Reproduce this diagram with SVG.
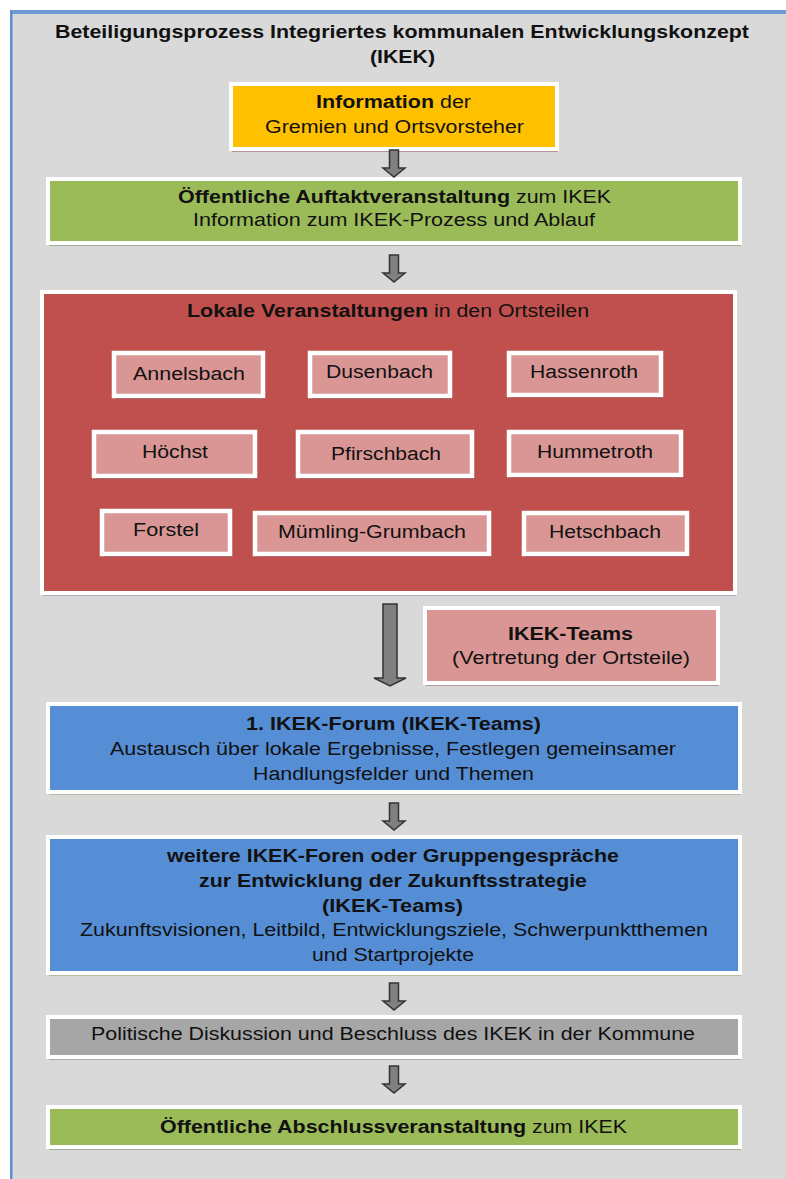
<svg xmlns="http://www.w3.org/2000/svg" width="786" height="1179" viewBox="0 0 786 1179">
<style>
text{font-family:"Liberation Sans",Arial,sans-serif;font-size:18px;fill:#111}
.b{font-weight:bold}
.box{stroke:#fff;stroke-width:4}
.sm{stroke:#fff;stroke-width:4.5}
.yel{fill:#ffc000}.grn{fill:#9bbb59}.red{fill:#c0504d}.pnk{fill:#d99694}.blu{fill:#558ed5}.gry{fill:#a6a6a6}
.arr{fill:#808080;stroke:#333;stroke-width:1.5;stroke-linejoin:miter}
</style>
<rect width="786" height="1179" fill="#fff"/>
<rect x="10" y="10" width="776" height="1169" fill="#d9d9d9"/>
<rect x="10" y="10" width="776" height="4" fill="#6e9bd6"/>
<rect x="10" y="10" width="2.5" height="1169" fill="#5b8fd0"/>

<g id="title">
<text class="b" x="55" y="38" textLength="694" lengthAdjust="spacingAndGlyphs">Beteiligungsprozess Integriertes kommunalen Entwicklungskonzept</text>
<text class="b" x="370" y="63" textLength="65" lengthAdjust="spacingAndGlyphs">(IKEK)</text>
</g>

<g id="info">
<rect x="232" y="87" width="326" height="65" fill="#b29494"/>
<rect class="box yel" x="231" y="84" width="326" height="65"/>
<text class="b" x="316" y="108" textLength="118" lengthAdjust="spacingAndGlyphs">Information</text>
<text x="440" y="108" textLength="31" lengthAdjust="spacingAndGlyphs">der</text>
<text x="265" y="133" textLength="259" lengthAdjust="spacingAndGlyphs">Gremien und Ortsvorsteher</text>
</g>

<g id="auftakt">
<rect x="49" y="182" width="692" height="64" fill="#a4ab96"/>
<rect class="box grn" x="48" y="179" width="692" height="64"/>
<text class="b" x="178" y="203" textLength="332" lengthAdjust="spacingAndGlyphs">Öffentliche Auftaktveranstaltung</text>
<text x="516" y="203" textLength="95" lengthAdjust="spacingAndGlyphs">zum IKEK</text>
<text x="193" y="226" textLength="402" lengthAdjust="spacingAndGlyphs">Information zum IKEK-Prozess und Ablauf</text>
</g>

<g id="lokal">
<rect x="43" y="295" width="693" height="301" fill="#a9b1bf"/>
<rect class="box red" x="42" y="292" width="693" height="301"/>
<text class="b" x="187" y="317" textLength="241" lengthAdjust="spacingAndGlyphs">Lokale Veranstaltungen</text>
<text x="434" y="317" textLength="155" lengthAdjust="spacingAndGlyphs">in den Ortsteilen</text>
</g>

<g id="annelsbach">
<rect x="116" y="356" width="149" height="43" fill="#8e3a38"/>
<rect class="sm pnk" x="114" y="353" width="149" height="43"/>
<text x="133" y="380" textLength="112" lengthAdjust="spacingAndGlyphs">Annelsbach</text>
</g>
<g id="dusenbach">
<rect x="312" y="356" width="140" height="43" fill="#8e3a38"/>
<rect class="sm pnk" x="310" y="353" width="140" height="43"/>
<text x="326" y="378" textLength="107" lengthAdjust="spacingAndGlyphs">Dusenbach</text>
</g>
<g id="hassenroth">
<rect x="511" y="356" width="152" height="42" fill="#8e3a38"/>
<rect class="sm pnk" x="509" y="353" width="152" height="42"/>
<text x="530" y="378" textLength="108" lengthAdjust="spacingAndGlyphs">Hassenroth</text>
</g>
<g id="hoechst">
<rect x="96" y="435" width="161" height="44" fill="#8e3a38"/>
<rect class="sm pnk" x="94" y="432" width="161" height="44"/>
<text x="142" y="458" textLength="66" lengthAdjust="spacingAndGlyphs">Höchst</text>
</g>
<g id="pfirschbach">
<rect x="300" y="435" width="174" height="44" fill="#8e3a38"/>
<rect class="sm pnk" x="298" y="432" width="174" height="44"/>
<text x="331" y="460" textLength="110" lengthAdjust="spacingAndGlyphs">Pfirschbach</text>
</g>
<g id="hummetroth">
<rect x="511" y="435" width="172" height="43" fill="#8e3a38"/>
<rect class="sm pnk" x="509" y="432" width="172" height="43"/>
<text x="537" y="458" textLength="116" lengthAdjust="spacingAndGlyphs">Hummetroth</text>
</g>
<g id="forstel">
<rect x="104" y="514" width="128" height="43" fill="#8e3a38"/>
<rect class="sm pnk" x="102" y="511" width="128" height="43"/>
<text x="133" y="536" textLength="66" lengthAdjust="spacingAndGlyphs">Forstel</text>
</g>
<g id="muemling-grumbach">
<rect x="257" y="516" width="234" height="41" fill="#8e3a38"/>
<rect class="sm pnk" x="255" y="513" width="234" height="41"/>
<text x="278" y="538" textLength="188" lengthAdjust="spacingAndGlyphs">Mümling-Grumbach</text>
</g>
<g id="hetschbach">
<rect x="526" y="516" width="163" height="41" fill="#8e3a38"/>
<rect class="sm pnk" x="524" y="513" width="163" height="41"/>
<text x="549" y="538" textLength="112" lengthAdjust="spacingAndGlyphs">Hetschbach</text>
</g>

<g id="ikek-teams">
<rect x="426" y="611" width="293" height="75" fill="#b59a9a"/>
<rect class="box pnk" x="425" y="608" width="293" height="75"/>
<text class="b" x="508" y="640" textLength="125" lengthAdjust="spacingAndGlyphs">IKEK-Teams</text>
<text x="452" y="664" textLength="238" lengthAdjust="spacingAndGlyphs">(Vertretung der Ortsteile)</text>
</g>

<g id="forum1">
<rect x="49" y="707" width="692" height="88" fill="#b4bba6"/>
<rect class="box blu" x="48" y="704" width="692" height="88"/>
<text class="b" x="246" y="730" textLength="295" lengthAdjust="spacingAndGlyphs">1. IKEK-Forum (IKEK-Teams)</text>
<text x="110" y="755" textLength="566" lengthAdjust="spacingAndGlyphs">Austausch über lokale Ergebnisse, Festlegen gemeinsamer</text>
<text x="253" y="780" textLength="281" lengthAdjust="spacingAndGlyphs">Handlungsfelder und Themen</text>
</g>

<g id="foren">
<rect x="49" y="840" width="692" height="136" fill="#b4bba6"/>
<rect class="box blu" x="48" y="837" width="692" height="136"/>
<text class="b" x="167" y="862" textLength="452" lengthAdjust="spacingAndGlyphs">weitere IKEK-Foren oder Gruppengespräche</text>
<text class="b" x="199" y="887" textLength="388" lengthAdjust="spacingAndGlyphs">zur Entwicklung der Zukunftsstrategie</text>
<text class="b" x="322" y="912" textLength="141" lengthAdjust="spacingAndGlyphs">(IKEK-Teams)</text>
<text x="80" y="936" textLength="628" lengthAdjust="spacingAndGlyphs">Zukunftsvisionen, Leitbild, Entwicklungsziele, Schwerpunktthemen</text>
<text x="312" y="961" textLength="162" lengthAdjust="spacingAndGlyphs">und Startprojekte</text>
</g>

<g id="politik">
<rect x="49" y="1020" width="692" height="40" fill="#a9aea3"/>
<rect class="box gry" x="48" y="1017" width="692" height="40"/>
<text x="91" y="1040" textLength="604" lengthAdjust="spacingAndGlyphs">Politische Diskussion und Beschluss des IKEK in der Kommune</text>
</g>

<g id="abschluss">
<rect x="49" y="1110" width="692" height="40" fill="#a4ab96"/>
<rect class="box grn" x="48" y="1107" width="692" height="40"/>
<text class="b" x="160" y="1133" textLength="366" lengthAdjust="spacingAndGlyphs">Öffentliche Abschlussveranstaltung</text>
<text x="532" y="1133" textLength="95" lengthAdjust="spacingAndGlyphs">zum IKEK</text>
</g>

<g id="connectors">
<path class="arr" d="M389.5,150 h9 v18 h6.5 l-11,9 l-11,-9 h6.5 z"/>
<path class="arr" d="M389.5,255 h9 v18 h6.5 l-11,9 l-11,-9 h6.5 z"/>
<path class="arr" d="M383,604 h14 v74 h9 l-16,8 l-16,-8 h9 z"/>
<path class="arr" d="M389.5,803 h9 v18 h6.5 l-11,9 l-11,-9 h6.5 z"/>
<path class="arr" d="M389.5,983 h9 v18 h6.5 l-11,9 l-11,-9 h6.5 z"/>
<path class="arr" d="M389.5,1066 h9 v18 h6.5 l-11,9 l-11,-9 h6.5 z"/>
</g>
</svg>
